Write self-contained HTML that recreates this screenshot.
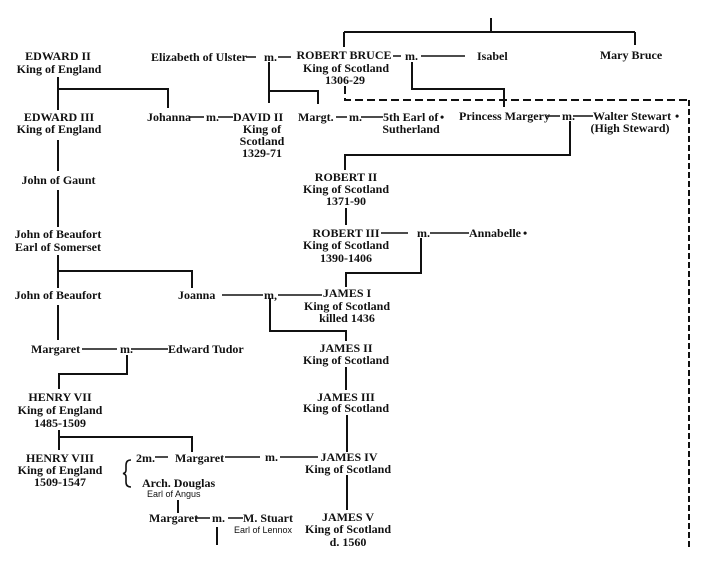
<!DOCTYPE html>
<html>
<head>
<meta charset="utf-8">
<style>
html,body{margin:0;padding:0;background:#fff;}
svg{display:block;}
text{font-family:"Liberation Serif",serif;font-size:12px;font-weight:bold;fill:#111;}
.c{text-anchor:middle;}
.s{font-family:"Liberation Sans",sans-serif;font-size:9px;font-weight:normal;}
</style>
</head>
<body>
<svg width="715" height="568" viewBox="0 0 715 568" xmlns="http://www.w3.org/2000/svg">
<g stroke="#111" stroke-width="2" fill="none">
  <!-- top bracket -->
  <path d="M491 18 V32 M344 32 H635 M344 32 V47 M635 32 V45"/>
  <!-- Edward II children -->
  <path d="M58 77 V110 M58 89 H168 V108"/>
  <path d="M58 140 V171"/>
  <path d="M58 190 V227"/>
  <path d="M58 255 V288 M58 271 H192 V288"/>
  <path d="M58 305 V340"/>
  <path d="M127 355 V374 H59 V389"/>
  <path d="M59 430 V450 M59 437 H192 V452"/>
  <!-- Elizabeth m. -->
  <path d="M269 62 V103 M269 91 H318 V104"/>
  <!-- Bruce m. Isabel -->
  <path d="M412 62 V89 H504 V107"/>
  <!-- Walter Stewart m. -->
  <path d="M570 121 V155 H345 V170"/>
  <path d="M346 208 V225"/>
  <path d="M421 238 V273 H346 V287"/>
  <path d="M270 298 V331 H346 V341"/>
  <path d="M346 367 V390"/>
  <path d="M347 415 V452"/>
  <path d="M347 475 V510"/>
  <path d="M178 500 V513"/>
  <path d="M217 527 V545"/>
</g>
<!-- dashed -->
<g stroke="#111" stroke-width="2" fill="none">
  <path d="M345 86 V100 H689" stroke-dasharray="8 4"/>
  <path d="M689 100 V548" stroke-dasharray="6 3"/>
</g>
<!-- inline dashes -->
<g stroke="#111" stroke-width="1.6">
  <path d="M246 57 H256 M278 57 H291"/>
  <path d="M393 56 H401 M421 56 H465"/>
  <path d="M190 117 H204 M218 117 H233"/>
  <path d="M336 117 H347 M361 117 H383"/>
  <path d="M547 116 H560 M573 116 H593"/>
  <path d="M381 233 H408 M430 233 H469"/>
  <path d="M222 295 H263 M278 295 H322"/>
  <path d="M82 349 H117 M131 349 H168"/>
  <path d="M155 457 H168 M225 457 H260 M280 457 H318"/>
  <path d="M196 518 H210 M228 518 H243"/>
</g>
<!-- brace -->
<path d="M131 460 Q126 460 126 465 L126 470 Q126 473 123 473.5 Q126 474 126 477 L126 482 Q126 487 131 487" stroke="#111" stroke-width="1.6" fill="none"/>

<!-- Left column -->
<text class="c" x="58" y="60">EDWARD II</text>
<text class="c" x="59" y="73">King of England</text>
<text class="c" x="59" y="121">EDWARD III</text>
<text class="c" x="59" y="133">King of England</text>
<text class="c" x="58.5" y="184">John of Gaunt</text>
<text class="c" x="58" y="238">John of Beaufort</text>
<text class="c" x="58" y="251">Earl of Somerset</text>
<text class="c" x="58" y="299">John of Beaufort</text>
<text x="31" y="353">Margaret</text>
<text x="120" y="353">m.</text>
<text x="168" y="353">Edward Tudor</text>
<text class="c" x="60" y="401">HENRY VII</text>
<text class="c" x="60" y="414">King of England</text>
<text class="c" x="60" y="427">1485-1509</text>
<text class="c" x="60" y="462">HENRY VIII</text>
<text class="c" x="60" y="474">King of England</text>
<text class="c" x="60" y="486">1509-1547</text>

<!-- Top row -->
<text x="151" y="61">Elizabeth of Ulster</text>
<text x="264" y="61">m.</text>
<text class="c" x="344" y="59">ROBERT BRUCE</text>
<text class="c" x="346" y="72">King of Scotland</text>
<text class="c" x="345" y="84">1306-29</text>
<text x="405" y="60">m.</text>
<text x="477" y="60">Isabel</text>
<text class="c" x="631" y="59">Mary Bruce</text>

<!-- second row -->
<text x="147" y="121">Johanna</text>
<text x="206" y="121">m.</text>
<text x="233" y="121">DAVID II</text>
<text class="c" x="262" y="133">King of</text>
<text class="c" x="262" y="145">Scotland</text>
<text class="c" x="262" y="157">1329-71</text>
<text x="298" y="121">Margt.</text>
<text x="349" y="121">m.</text>
<text x="383" y="121">5th Earl of</text>
<text x="440" y="121">•</text>
<text class="c" x="411" y="133">Sutherland</text>
<text x="459" y="120">Princess Margery</text>
<text x="562" y="120">m.</text>
<text x="593" y="120">Walter Stewart</text>
<text x="675" y="120">•</text>
<text class="c" x="630" y="132">(High Steward)</text>

<!-- Scotland line -->
<text class="c" x="346" y="181">ROBERT II</text>
<text class="c" x="346" y="193">King of Scotland</text>
<text class="c" x="346" y="205">1371-90</text>
<text class="c" x="346" y="237">ROBERT III</text>
<text class="c" x="346" y="249">King of Scotland</text>
<text class="c" x="346" y="262">1390-1406</text>
<text x="417" y="237">m.</text>
<text x="469" y="237">Annabelle</text>
<text x="523" y="237">•</text>
<text x="178" y="299">Joanna</text>
<text x="264" y="299">m,</text>
<text class="c" x="347" y="297">JAMES I</text>
<text class="c" x="347" y="310">King of Scotland</text>
<text class="c" x="347" y="322">killed 1436</text>
<text class="c" x="346" y="352">JAMES II</text>
<text class="c" x="346" y="364">King of Scotland</text>
<text class="c" x="346" y="401">JAMES III</text>
<text class="c" x="346" y="412">King of Scotland</text>
<text class="c" x="349" y="461">JAMES IV</text>
<text class="c" x="348" y="473">King of Scotland</text>
<text class="c" x="348" y="521">JAMES V</text>
<text class="c" x="348" y="533">King of Scotland</text>
<text class="c" x="348" y="546">d. 1560</text>

<!-- Margaret / Douglas -->
<text x="136" y="462">2m.</text>
<text x="175" y="462">Margaret</text>
<text x="265" y="461">m.</text>
<text x="142" y="487">Arch. Douglas</text>
<text class="s" x="147" y="497">Earl of Angus</text>
<text x="149" y="522">Margaret</text>
<text x="212" y="522">m.</text>
<text x="243" y="522">M. Stuart</text>
<text class="s" x="234" y="533">Earl of Lennox</text>
</svg>
</body>
</html>
